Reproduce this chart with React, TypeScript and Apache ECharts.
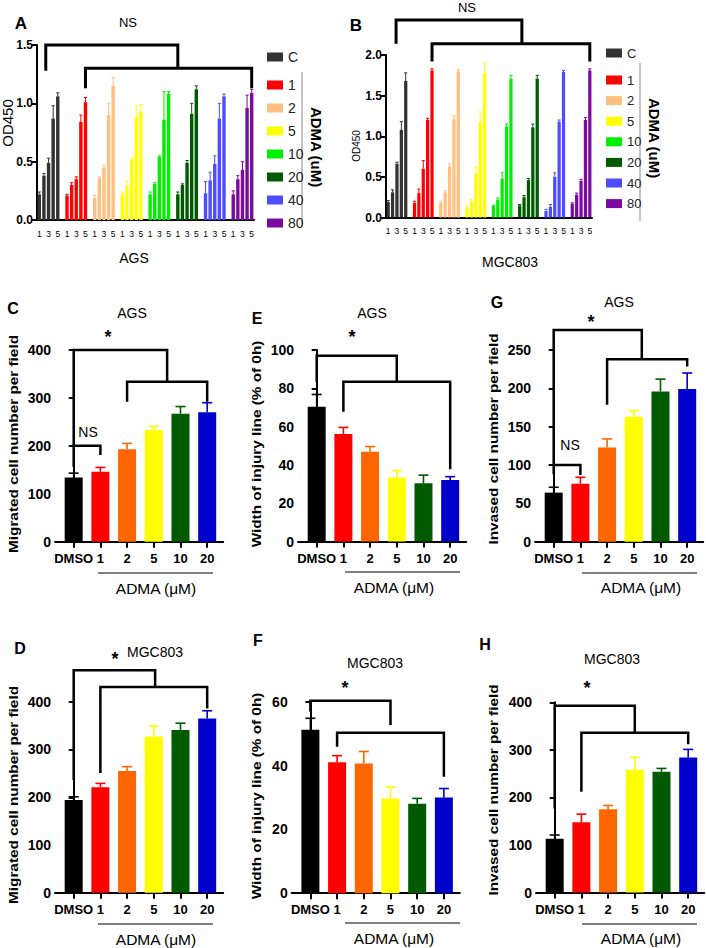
import React, { useEffect, useRef } from 'react';
import * as echarts from 'echarts';

const FONT = '"Liberation Sans", Arial, Helvetica, sans-serif';

// ---------- Panels A & B : OD450 over days ----------
const doseGroups = ['C', '1', '2', '5', '10', '20', '40', '80'];
const dayLabels = ['1', '', '3', '', '5'];

const agsOD = [
  [0.22, 0.38, 0.49, 0.87, 1.06],
  [0.21, 0.30, 0.35, 0.84, 1.01],
  [0.19, 0.36, 0.45, 0.90, 1.15],
  [0.22, 0.29, 0.52, 0.88, 0.93],
  [0.22, 0.31, 0.54, 0.86, 1.08],
  [0.22, 0.30, 0.49, 0.91, 1.12],
  [0.23, 0.34, 0.48, 0.87, 1.06],
  [0.22, 0.35, 0.43, 0.96, 1.09],
];
const agsODUpper = [
  [0.24, 0.40, 0.53, 0.98, 1.09],
  [0.22, 0.32, 0.37, 0.90, 1.05],
  [0.21, 0.37, 0.47, 1.00, 1.22],
  [0.24, 0.33, 0.53, 0.98, 0.99],
  [0.24, 0.32, 0.55, 1.10, 1.10],
  [0.24, 0.31, 0.51, 1.00, 1.15],
  [0.33, 0.41, 0.55, 1.00, 1.08],
  [0.25, 0.38, 0.50, 1.07, 1.12],
];
const mgcOD = [
  [0.19, 0.31, 0.66, 1.08, 1.68],
  [0.18, 0.30, 0.60, 1.20, 1.81],
  [0.18, 0.31, 0.63, 1.21, 1.80],
  [0.12, 0.20, 0.55, 1.18, 1.78],
  [0.14, 0.22, 0.48, 1.12, 1.71],
  [0.15, 0.25, 0.46, 1.11, 1.71],
  [0.08, 0.13, 0.50, 1.18, 1.79],
  [0.17, 0.28, 0.45, 1.20, 1.81],
];
const mgcODUpper = [
  [0.21, 0.34, 0.68, 1.18, 1.78],
  [0.20, 0.35, 0.70, 1.22, 1.83],
  [0.20, 0.33, 0.66, 1.25, 1.82],
  [0.14, 0.22, 0.62, 1.30, 1.90],
  [0.15, 0.24, 0.55, 1.15, 1.75],
  [0.16, 0.27, 0.48, 1.15, 1.75],
  [0.10, 0.16, 0.55, 1.20, 1.81],
  [0.18, 0.30, 0.47, 1.23, 1.83],
];

// brackets: [xLeft, yLeftEnd, xRight, yRightEnd, yTop] (x = category slot)
const bracketsA = [[1.4, 1.28, 30, 1.30, 1.5], [10, 1.13, 46, 1.13, 1.30]];
const bracketsB = [[1.8, 2.14, 30.5, 2.14, 2.43], [10, 1.92, 46, 1.92, 2.14]];

// ---------- Panels C-H ----------
const doseLabels = ['DMSO', '1', '2', '5', '10', '20'];

const migAGS = [134, 146, 193, 233, 267, 270];
const migAGSUpper = [143, 155, 205, 241, 282, 290];
const woundAGS = [70.4, 56.2, 46.9, 33.5, 30.4, 32.1];
const woundAGSUpper = [76.8, 59.6, 49.6, 37.1, 34.7, 33.9];
const invAGS = [64, 75.7, 122.7, 163, 196, 199.3];
const invAGSUpper = [71, 84, 134, 171, 212, 220];
const migMGC = [194, 221, 255, 327, 341, 365];
const migMGCUpper = [201, 229, 264, 349, 355, 381];
const woundMGC = [51.2, 41, 40.6, 29.7, 28, 30];
const woundMGCUpper = [54.8, 43.1, 44.4, 33.2, 29.7, 32.8];
const invMGC = [113, 148, 175, 258, 254, 284];
const invMGCUpper = [121, 165, 183, 284, 261, 301];

const bracketsC = [[0, 156, 3.5, 334, 400], [2, 292, 5, 292, 334], [0, 200, 1, 181, 200]];
const bracketsE = [[0, 83.4, 3, 83.4, 97], [1, 67.8, 5, 37.7, 83.4]];
const bracketsG = [[0, 88, 3.3, 238, 276], [2, 178.5, 5, 228.5, 238], [0, 100, 1, 87, 100]];
const bracketsD = [[0, 236, 3.05, 431, 466], [1, 251, 5, 386, 431]];
const bracketsF = [[0, 56.9, 3, 52.7, 60.3], [1, 45.9, 5, 36.5, 50.3]];
const bracketsH = [[0, 177, 3, 336, 392.6], [1, 212, 5, 312, 336]];

// ---------- styles ----------
const groupColors = ['#333333', '#ff0000', '#ffbf80', '#ffff00', '#00ee00', '#005a00', '#4d4dff', '#7a0aa0'];
const doseColors = ['#000000', '#ff0000', '#ff6600', '#ffff00', '#005a00', '#0000cc'];

const SLOTS = 6;
const N_CAT = doseGroups.length * SLOTS - 1;
const odCategories = Array.from({ length: N_CAT }, (_, i) => `${doseGroups[Math.floor(i / SLOTS)]}-${(i % SLOTS) + 1}`);
const slotIndex = (g: number, d: number) => g * SLOTS + d;

function at(api: any, x: number, y: number) {
  const f = Math.floor(x);
  const t = x - f;
  const a = api.coord([f, y]);
  if (t === 0) return a;
  const b = api.coord([f + 1, y]);
  return [a[0] + (b[0] - a[0]) * t, a[1]];
}

function errorRender(palette: string[], cap: number, lw: number) {
  return (params: any, api: any) => {
    const x = api.value(0);
    const p0 = api.coord([x, api.value(1)]);
    const p1 = api.coord([x, api.value(2)]);
    const color = palette[api.value(3)];
    return {
      type: 'group',
      children: [
        { type: 'line', shape: { x1: p0[0], y1: p0[1], x2: p1[0], y2: p1[1] }, style: { stroke: color, lineWidth: lw } },
        { type: 'line', shape: { x1: p1[0] - cap, y1: p1[1], x2: p1[0] + cap, y2: p1[1] }, style: { stroke: color, lineWidth: lw } },
      ],
    };
  };
}

function bracketRender(lw: number) {
  return (params: any, api: any) => {
    const xL = api.value(0), yL = api.value(1), xR = api.value(2), yR = api.value(3), yT = api.value(4);
    const p1 = at(api, xL, yL), p2 = at(api, xL, yT), p3 = at(api, xR, yT), p4 = at(api, xR, yR);
    return {
      type: 'polyline',
      shape: { points: [p1, p2, p3, p4] },
      style: { stroke: '#000', lineWidth: lw, fill: 'none', lineJoin: 'miter' },
    };
  };
}

function bracketSeries(data: number[][], gi: number, lw: number) {
  return {
    type: 'custom', xAxisIndex: gi, yAxisIndex: gi, clip: false, z: 4, silent: true,
    renderItem: bracketRender(lw), data,
  };
}

function odBarSeries(values: number[][], gi: number) {
  return doseGroups.map((name, g) => {
    const data: any[] = odCategories.map(() => '-');
    values[g].forEach((v, d) => { data[slotIndex(g, d)] = v; });
    return {
      type: 'bar', name, xAxisIndex: gi, yAxisIndex: gi, stack: 'od' + gi, barWidth: '74%',
      itemStyle: { color: groupColors[g] }, data,
    };
  });
}

function odErrorSeries(values: number[][], upper: number[][], gi: number) {
  const data: number[][] = [];
  values.forEach((row, g) => row.forEach((v, d) => data.push([slotIndex(g, d), v, upper[g][d], g])));
  return {
    type: 'custom', xAxisIndex: gi, yAxisIndex: gi, clip: false, z: 3, silent: true,
    renderItem: errorRender(groupColors, 1.6, 1), data,
  };
}

function doseBarSeries(values: number[], gi: number) {
  return {
    type: 'bar', xAxisIndex: gi, yAxisIndex: gi, barWidth: 18,
    data: values.map((v, i) => ({ value: [i, v], itemStyle: { color: doseColors[i] } })),
  };
}

function doseErrorSeries(values: number[], upper: number[], gi: number) {
  return {
    type: 'custom', xAxisIndex: gi, yAxisIndex: gi, clip: false, z: 3, silent: true,
    renderItem: errorRender(doseColors, 5, 1.6),
    data: values.map((v, i) => [i, v, upper[i], i]),
  };
}

const axisLine = { show: true, lineStyle: { color: '#000', width: 2 } };

function odXAxis(gi: number) {
  return {
    type: 'category', gridIndex: gi, data: odCategories,
    axisLine,
    axisTick: { alignWithLabel: true, interval: (i: number) => i % SLOTS < 5, length: 5, lineStyle: { color: '#000', width: 1.3 } },
    axisLabel: {
      interval: 0, margin: 9, fontSize: 8.5, color: '#000', fontFamily: FONT,
      formatter: (_v: string, i: number) => (i % SLOTS < 5 ? dayLabels[i % SLOTS] : ''),
    },
  };
}

function odYAxis(gi: number, max: number) {
  return {
    type: 'value', gridIndex: gi, min: 0, max, interval: 0.5,
    axisLine, splitLine: { show: false },
    axisTick: { show: true, length: 5, lineStyle: { color: '#000', width: 2 } },
    axisLabel: { margin: 4, fontSize: 12, fontWeight: 'bold', color: '#000', fontFamily: FONT, formatter: (v: number) => v.toFixed(1) },
  };
}

function doseXAxis(gi: number) {
  return {
    type: 'value', gridIndex: gi, min: -0.7, max: 5.6,
    axisLine, splitLine: { show: false },
    axisTick: { show: true, customValues: [0, 1, 2, 3, 4, 5], length: 6, lineStyle: { color: '#000', width: 2 } },
    axisLabel: {
      customValues: [0, 1, 2, 3, 4, 5], margin: 10, fontSize: 13, fontWeight: 'bold', color: '#000', fontFamily: FONT,
      formatter: (v: number) => doseLabels[Math.round(v)],
    },
  };
}

function doseYAxis(gi: number, max: number, interval: number) {
  return {
    type: 'value', gridIndex: gi, min: 0, max, interval,
    axisLine, splitLine: { show: false },
    axisTick: { show: true, length: 5, lineStyle: { color: '#000', width: 2 } },
    axisLabel: { margin: 4, fontSize: 14, fontWeight: 'bold', color: '#000', fontFamily: FONT },
  };
}

function txt(text: string, x: number, y: number, size: number, bold = false, extra: any = {}) {
  return {
    type: 'text', x, y, silent: true, ...extra,
    style: { text, fontSize: size, fontWeight: bold ? 'bold' : 'normal', fontFamily: FONT, fill: '#000', align: 'center', verticalAlign: 'middle' },
  };
}
const rotUp = (s = 1) => ({ rotation: Math.PI / 2, scaleX: s });
const rotDown = { rotation: -Math.PI / 2 };

function hline(x1: number, x2: number, y: number, color = '#000', w = 1) {
  return { type: 'line', silent: true, shape: { x1, y1: y, x2, y2: y }, style: { stroke: color, lineWidth: w } };
}
function vline(x: number, y1: number, y2: number, color = '#888', w = 1) {
  return { type: 'line', silent: true, shape: { x1: x, y1, x2: x, y2 }, style: { stroke: color, lineWidth: w } };
}

function buildOption() {
  const grids = [
    { left: 37, top: 45, width: 217, height: 175 },      // A
    { left: 386, top: 55, width: 206, height: 162.5 },   // B
    { left: 55, top: 350, width: 168.2, height: 191.7 }, // C
    { left: 298, top: 350, width: 168.2, height: 191.6 },// E
    { left: 535, top: 350, width: 168.2, height: 191.7 },// G
    { left: 55, top: 701.7, width: 168.2, height: 191.1 },  // D
    { left: 291.7, top: 701.7, width: 168.2, height: 191.5 },// F
    { left: 536, top: 702.3, width: 168.2, height: 190.3 },  // H
  ];

  const dosePanels = [
    { gi: 2, max: 400, interval: 100, v: migAGS, u: migAGSUpper, br: bracketsC },
    { gi: 3, max: 100, interval: 20, v: woundAGS, u: woundAGSUpper, br: bracketsE },
    { gi: 4, max: 250, interval: 50, v: invAGS, u: invAGSUpper, br: bracketsG },
    { gi: 5, max: 400, interval: 100, v: migMGC, u: migMGCUpper, br: bracketsD },
    { gi: 6, max: 60, interval: 20, v: woundMGC, u: woundMGCUpper, br: bracketsF },
    { gi: 7, max: 400, interval: 100, v: invMGC, u: invMGCUpper, br: bracketsH },
  ];

  const xAxis: any[] = [odXAxis(0), odXAxis(1)];
  const yAxis: any[] = [odYAxis(0, 1.5), odYAxis(1, 2.0)];
  dosePanels.forEach((p) => {
    xAxis.push(doseXAxis(p.gi));
    yAxis.push(doseYAxis(p.gi, p.max, p.interval));
  });

  const series: any[] = [
    ...odBarSeries(agsOD, 0),
    odErrorSeries(agsOD, agsODUpper, 0),
    bracketSeries(bracketsA, 0, 3),
    ...odBarSeries(mgcOD, 1),
    odErrorSeries(mgcOD, mgcODUpper, 1),
    bracketSeries(bracketsB, 1, 3),
  ];
  dosePanels.forEach((p) => {
    series.push(doseBarSeries(p.v, p.gi));
    series.push(doseErrorSeries(p.v, p.u, p.gi));
    series.push(bracketSeries(p.br, p.gi, 2.5));
  });

  const legendBase = {
    orient: 'vertical', icon: 'rect', itemWidth: 16, itemHeight: 9, selectedMode: false,
    textStyle: { fontSize: 14, fontFamily: FONT, color: '#222' },
  };
  const legend = [
    { ...legendBase, data: ['C'], left: 262, top: 45 },
    { ...legendBase, data: doseGroups.slice(1), left: 262, top: 73, itemGap: 9 },
    { ...legendBase, data: ['C'], left: 601, top: 41.5, textStyle: { fontSize: 13, fontFamily: FONT, color: '#222' } },
    { ...legendBase, data: doseGroups.slice(1), left: 601, top: 68.5, itemGap: 7.6, textStyle: { fontSize: 13, fontFamily: FONT, color: '#222' } },
  ];

  const migLabel = 'Migrated cell number per field';
  const woundLabel = 'Width of injury line (% of 0h)';
  const invLabel = 'Invased cell number per field';
  const admaLabel = 'ADMA (\u03bcM)';

  const graphic: any[] = [
    // A
    txt('A', 21, 23, 17, true),
    txt('NS', 128, 22, 13),
    txt('OD450', 7, 123, 15, false, rotUp()),
    txt('AGS', 134, 258, 14),
    txt('ADMA (uM)', 316, 147, 15, true, rotDown),
    vline(302, 72, 226),
    // B
    txt('B', 356, 25, 17, true),
    txt('NS', 467, 7, 13),
    txt('OD450', 356, 146, 10, false, rotUp()),
    txt('MGC803', 510, 262, 14),
    txt('ADMA (uM)', 654, 138, 15, true, rotDown),
    vline(640, 63, 221),
    // C
    txt('C', 13, 308, 16, true),
    txt('AGS', 132, 313, 14),
    txt('*', 108, 337, 18, true),
    txt('NS', 88, 432, 14),
    txt(migLabel, 13, 444, 13, true, rotUp(1.18)),
    hline(98, 213, 573),
    txt(admaLabel, 156, 588, 15.5),
    // E
    txt('E', 257, 318, 16, true),
    txt('AGS', 372, 313, 14),
    txt('*', 352, 337, 18, true),
    txt(woundLabel, 256, 444, 13, true, rotUp(1.18)),
    hline(345, 460, 572),
    txt(admaLabel, 394, 587, 15.5),
    // G
    txt('G', 497, 302, 16, true),
    txt('AGS', 619, 302, 14),
    txt('*', 591, 322, 18, true),
    txt('NS', 570, 445, 14),
    txt(invLabel, 493, 439, 13, true, rotUp(1.18)),
    hline(582, 697, 573),
    txt(admaLabel, 641, 587, 15.5),
    // D
    txt('D', 20, 648, 16, true),
    txt('*', 115, 659, 18, true),
    txt('MGC803', 155, 652, 14),
    txt(migLabel, 13, 795, 13, true, rotUp(1.18)),
    hline(98, 213, 924),
    txt(admaLabel, 156, 939, 15.5),
    // F
    txt('F', 258, 640, 16, true),
    txt('MGC803', 375, 663, 14),
    txt('*', 345, 688, 18, true),
    txt(woundLabel, 256, 796, 13, true, rotUp(1.18)),
    hline(345, 460, 923),
    txt(admaLabel, 394, 938, 15.5),
    // H
    txt('H', 485, 644, 16, true),
    txt('MGC803', 612, 659, 14),
    txt('*', 587, 688, 18, true),
    txt(invLabel, 493, 790, 13, true, rotUp(1.18)),
    hline(582, 697, 924),
    txt(admaLabel, 641, 938, 15.5),
  ];

  return {
    animation: false,
    backgroundColor: '#ffffff',
    textStyle: { fontFamily: FONT },
    grid: grids,
    xAxis,
    yAxis,
    legend,
    series,
    graphic,
  };
}

export default function App() {
  const ref = useRef<HTMLDivElement>(null);
  useEffect(() => {
    if (!ref.current) return;
    const chart = echarts.init(ref.current, null, { renderer: 'svg' });
    chart.setOption(buildOption() as any);
    return () => chart.dispose();
  }, []);
  return (
    <div
      ref={ref}
      style={{ position: 'absolute', left: 0, top: 0, width: 706, height: 948, background: '#fff' }}
    />
  );
}
